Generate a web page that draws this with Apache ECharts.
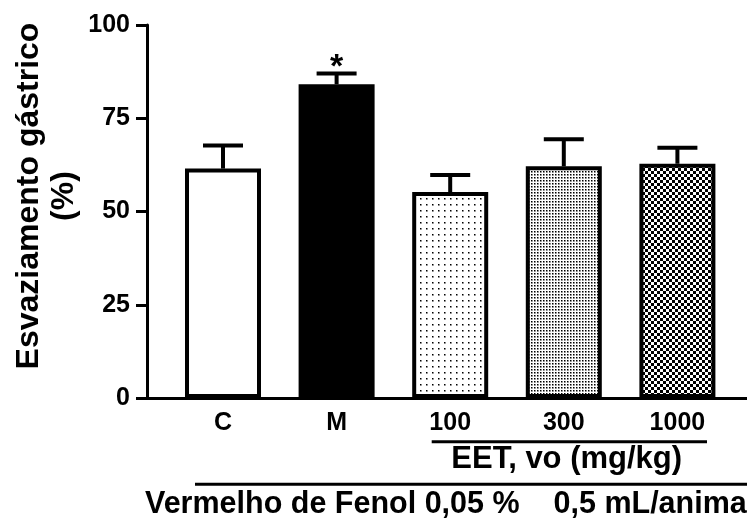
<!DOCTYPE html>
<html><head><meta charset="utf-8">
<script src="https://cdn.jsdelivr.net/npm/echarts@6/dist/echarts.min.js"></script>
<style>html,body{margin:0;padding:0;background:#fff}#c{width:747px;height:520px}</style>
</head><body><div id="c"></div>
<script>
// ---- data ----
const categories = ['C', 'M', '100', '300', '1000'];
const means = [61.5, 84.1, 55.2, 62.1, 62.8];
const sems = [6.2, 2.9, 4.6, 7.3, 4.3];
const sigMarks = ['', '*', '', '', ''];
const yTicks = [0, 25, 50, 75, 100];
const yTitle = 'Esvaziamento gástrico\n(%)';
const groupLabel = 'EET, vo (mg/kg)';
const footLabel = 'Vermelho de Fenol 0,05 %    0,5 mL/animal';

// ---- fills ----
const FF = '"Liberation Sans", Arial, sans-serif';
function makeTile(size, draw) {
  const c = document.createElement('canvas'); c.width = size; c.height = size;
  const g = c.getContext('2d'); g.fillStyle = '#fff'; g.fillRect(0, 0, size, size); draw(g); return c;
}
function dot(g, x, y) {
  g.fillStyle = '#000'; g.fillRect(x, y, 1, 1);
  g.fillStyle = '#808080'; g.fillRect(x + 1, y, 1, 1); g.fillRect(x, y + 1, 1, 1);
  g.fillStyle = '#b0b0b0'; g.fillRect(x + 1, y + 1, 1, 1);
}
const sparse = makeTile(6, g => dot(g, 0, 0));
const dense = makeTile(3, g => dot(g, 0, 0));
const checker = makeTile(6, g => { g.fillStyle = '#000'; g.fillRect(0, 0, 3, 3); g.fillRect(3, 3, 3, 3); });
const fills = ['#ffffff', '#000000', { image: sparse, repeat: 'repeat' }, { image: dense, repeat: 'repeat' }, { image: checker, repeat: 'repeat' }];

const chart = echarts.init(document.getElementById('c'), null, { renderer: 'canvas' });
const option = {
  animation: false,
  backgroundColor: '#fff',
  grid: [
    { left: 166.2, right: 12.8, top: 25, bottom: 122 },
    { left: 147, right: 0, top: 25, bottom: 122 }
  ],
  xAxis: [
    { type: 'category', gridIndex: 0, data: categories,
      axisLine: { show: false }, axisTick: { show: false }, splitLine: { show: false },
      axisLabel: { fontSize: 25, fontWeight: 'bold', color: '#000', fontFamily: FF, margin: 13 } },
    { type: 'value', gridIndex: 1, min: 0, max: 1,
      axisLine: { show: true, lineStyle: { color: '#000', width: 3 } },
      axisTick: { show: false }, axisLabel: { show: false }, splitLine: { show: false } }
  ],
  yAxis: [
    { type: 'value', gridIndex: 0, min: yTicks[0], max: yTicks[yTicks.length - 1], show: false },
    { type: 'value', gridIndex: 1, min: yTicks[0], max: yTicks[yTicks.length - 1], interval: 25,
      axisLine: { show: true, lineStyle: { color: '#000', width: 3 } },
      axisTick: { show: true, length: 11, lineStyle: { color: '#000', width: 3 } },
      splitLine: { show: false },
      axisLabel: { fontSize: 25, fontWeight: 'bold', color: '#000', fontFamily: FF, margin: 17 } }
  ],
  series: [
    { type: 'bar', xAxisIndex: 0, yAxisIndex: 0, barWidth: 76,
      data: means.map((v, i) => ({ value: v, itemStyle: { color: fills[i], borderColor: '#000', borderWidth: 4 } })) },
    { type: 'custom', xAxisIndex: 0, yAxisIndex: 0, z: 5,
      data: categories.map((c, i) => [i, means[i], sems[i]]),
      encode: { x: 0, y: 1 },
      renderItem(params, api) {
        const i = api.value(0), m = api.value(1), e = api.value(2);
        const p0 = api.coord([i, m]), p1 = api.coord([i, m + e]);
        const children = [
          { type: 'line', shape: { x1: p0[0], y1: p0[1], x2: p1[0], y2: p1[1] }, style: { stroke: '#000', lineWidth: 4 } },
          { type: 'line', shape: { x1: p1[0] - 20, y1: p1[1], x2: p1[0] + 20, y2: p1[1] }, style: { stroke: '#000', lineWidth: 4 } }
        ];
        if (sigMarks[params.dataIndex]) {
          children.push({ type: 'text', x: p1[0], y: p1[1] - 6,
            style: { text: sigMarks[params.dataIndex], font: 'bold 34px ' + FF, fill: '#000', align: 'center', verticalAlign: 'middle' } });
        }
        return { type: 'group', children };
      } }
  ],
  graphic: [
    { type: 'text', x: 47, y: 196, rotation: Math.PI / 2,
      style: { text: yTitle, font: 'bold 32px ' + FF, fill: '#000', align: 'center', verticalAlign: 'middle', lineHeight: 35 } },
    { type: 'line', shape: { x1: 431.7, y1: 441.7, x2: 707, y2: 441.7 }, style: { stroke: '#000', lineWidth: 3 } },
    { type: 'text', x: 566.7, y: 459,
      style: { text: groupLabel, font: 'bold 31px ' + FF, fill: '#000', align: 'center', verticalAlign: 'middle' } },
    { type: 'line', shape: { x1: 195, y1: 484.3, x2: 747, y2: 484.3 }, style: { stroke: '#000', lineWidth: 3 } },
    { type: 'text', x: 145, y: 505,
      style: { text: footLabel, font: 'bold 30.5px ' + FF, fill: '#000', align: 'left', verticalAlign: 'middle' } }
  ]
};
chart.setOption(option);
</script>
</body></html>
